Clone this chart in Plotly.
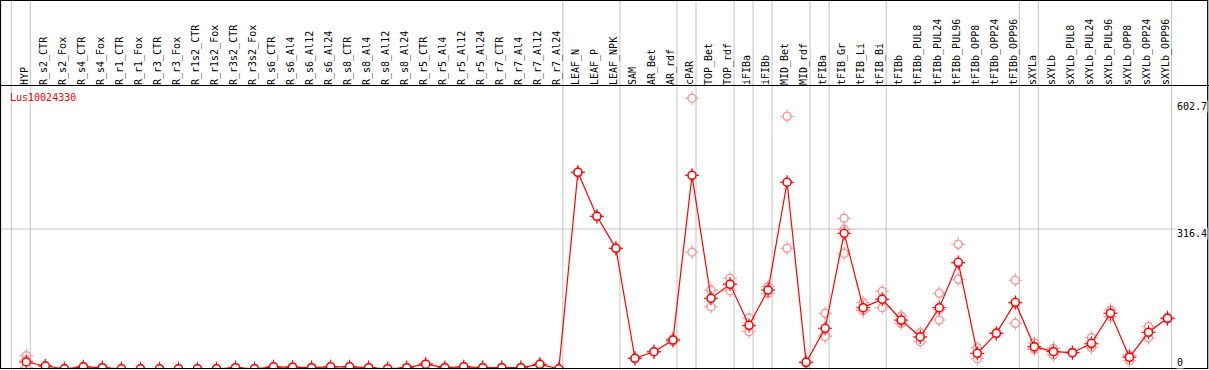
import plotly.graph_objects as go

# ---- data -------------------------------------------------------------
groups = [
    ["HYP"],
    ["R_s2_CTR", "R_s2_Fox", "R_s4_CTR", "R_s4_Fox", "R_r1_CTR", "R_r1_Fox",
     "R_r3_CTR", "R_r3_Fox", "R_r1s2_CTR", "R_r1s2_Fox", "R_r3s2_CTR", "R_r3s2_Fox",
     "R_s6_CTR", "R_s6_Al4", "R_s6_Al12", "R_s6_Al24", "R_s8_CTR", "R_s8_Al4",
     "R_s8_Al12", "R_s8_Al24", "R_r5_CTR", "R_r5_Al4", "R_r5_Al12", "R_r5_Al24",
     "R_r7_CTR", "R_r7_Al4", "R_r7_Al12", "R_r7_Al24"],
    ["LEAF_N", "LEAF_P", "LEAF_NPK"],
    ["SAM", "AR_Bet", "AR_rdf"],
    ["cPAR"],
    ["TOP_Bet", "TOP_rdf"],
    ["iFIBa"],
    ["iFIBb"],
    ["MID_Bet", "MID_rdf"],
    ["tFIBa"],
    ["tFIB_Gr", "tFIB_Li", "tFIB_Bi"],
    ["tFIBb", "tFIBb_PUL8", "tFIBb_PUL24", "tFIBb_PUL96", "tFIBb_OPP8", "tFIBb_OPP24", "tFIBb_OPP96"],
    ["sXYLa"],
    ["sXYLb", "sXYLb_PUL8", "sXYLb_PUL24", "sXYLb_PUL96", "sXYLb_OPP8", "sXYLb_OPP24", "sXYLb_OPP96"],
]
categories = [c for g in groups for c in g]

mean_values = [
    15.8, 6.8, 0.5, 5, 3, 0.5, 0.5, 0.5, 0.5, 0.5, 0.5, 3, 0.5, 5, 4,
    3, 5, 5, 3, 0.5, 3, 11, 3, 5, 3, 3, 3, 10.5, 0.5,
    444.5, 345, 272.7,
    24.2, 39, 65.5,
    437.7,
    159.8, 191.4,
    98.7,
    178.5,
    422, 15,
    92,
    306.6, 138.6, 157.5,
    110.7, 72.3, 138.6, 241, 35.4, 80.6, 150.7,
    50.4,
    39.1, 36.9, 58, 125.9, 26.4, 83, 114.6,
]
rep_a = [
    30, 6.8, 0.5, 5, 3, 0.5, 0.5, 0.5, 0.5, 0.5, 0.5, 3, 0.5, 5, 4,
    3, 5, 5, 3, 0.5, 3, 11, 3, 5, 3, 3, 3, 10.5, 0.5,
    444.5, 345, 272.7,
    24.2, 39, 62,
    612,
    178.5, 205,
    115,
    186,
    571, 14,
    125.9,
    340.5, 149.9, 175.5,
    119.8, 82, 171, 281.8, 48, 82, 200.4,
    59.4,
    46.8, 38, 70.8, 133.3, 31.6, 95.6, 117,
]
rep_b = [
    20, 6.8, 0.5, 5, 3, 0.5, 0.5, 0.5, 0.5, 0.5, 0.5, 3, 0.5, 5, 4,
    3, 5, 5, 3, 0.5, 3, 11, 3, 5, 3, 3, 3, 10.5, 0.5,
    444.5, 345, 272.7,
    24.2, 39, 66,
    438,
    140.8, 177,
    84.3,
    171,
    272.7, 16,
    76.8,
    315.6, 131.8, 138.6,
    103.2, 61.7, 110.7, 202.7, 23.3, 80, 103.2,
    44.5,
    31.6, 36, 48.1, 118.2, 18.8, 70.8, 113,
]
rep_c = [
    4, 6.8, 0.5, 5, 3, 0.5, 0.5, 0.5, 0.5, 0.5, 0.5, 3, 0.5, 5, 4,
    3, 5, 5, 3, 0.5, 3, 11, 3, 5, 3, 3, 3, 10.5, 0.5,
    444.5, 345, 272.7,
    24.2, 39, 68,
    264,
    160, 192,
    97,
    178.5,
    422, 15,
    73,
    261.4, 134, 158.4,
    109, 73, 134, 238.5, 35, 80, 148.5,
    47,
    39, 37, 55, 126, 29, 82.6, 114,
]
y_ticks = [0, 316.4, 602.7]
y_tick_labels = ["0", "316.4", "602.7"]
gene_id = "Lus10024330"

# ---- geometry / style ------------------------------------------------
W, H = 1209, 370
X0_PX, STEP_PX = 26.3, 19.02          # pixel position of first category, spacing
PLOT_TOP_PX, PLOT_BOT_PX = 86, 369
PX_PER_UNIT = 0.4425
FONT = "DejaVu Sans Mono"
RED = "#ff0000"
FADED = "#f29a9a"
GRID = "#c4c4c4"

xs = list(range(len(categories)))
x_range = [-X0_PX / STEP_PX, (W - X0_PX) / STEP_PX]
y_range = [0, (PLOT_BOT_PX - PLOT_TOP_PX) / PX_PER_UNIT]

fig = go.Figure()

# replicate points (faded)
for rep in (rep_a, rep_b, rep_c):
    fig.add_trace(go.Scatter(
        x=xs, y=rep, mode="markers", hoverinfo="skip",
        marker=dict(symbol="cross-thin-open", size=10, color=FADED,
                    line=dict(color=FADED, width=1)),
    ))
    fig.add_trace(go.Scatter(
        x=xs, y=rep, mode="markers", hoverinfo="skip",
        marker=dict(symbol="circle", size=8, color="white", line=dict(color=FADED, width=1.5)),
    ))

# mean line + markers
fig.add_trace(go.Scatter(
    x=xs, y=mean_values, mode="lines", line=dict(color=RED, width=1.2), hoverinfo="skip",
))
fig.add_trace(go.Scatter(
    x=xs, y=mean_values, mode="markers", hoverinfo="skip",
    marker=dict(symbol="cross-thin-open", size=10, color=RED, line=dict(color=RED, width=1)),
))
fig.add_trace(go.Scatter(
    x=xs, y=mean_values, mode="markers",
    marker=dict(symbol="circle", size=8, color="white", line=dict(color=RED, width=1.5)),
))

shapes = []
# group separators (vertical gray lines)
off = 4 / STEP_PX
bounds = [-1]
acc = -1
for g in groups:
    acc += len(g)
    bounds.append(acc)
for b in bounds:
    shapes.append(dict(type="line", xref="x", yref="paper", x0=b + off, x1=b + off,
                       y0=0, y1=1, line=dict(color=GRID, width=1), layer="below"))
# horizontal grid at interior ticks
for v in y_ticks[1:-1]:
    shapes.append(dict(type="line", xref="paper", yref="y", x0=0, x1=1, y0=v, y1=v,
                       line=dict(color=GRID, width=1), layer="below"))
# frame
def py(px):
    return (H - px) / H
shapes.append(dict(type="rect", xref="paper", yref="paper",
                   x0=0.5 / W, x1=1207.7 / W, y0=py(368.5), y1=py(0.5),
                   line=dict(color="black", width=1.2)))
shapes.append(dict(type="line", xref="paper", yref="paper",
                   x0=0, x1=1, y0=py(85.5), y1=py(85.5),
                   line=dict(color="black", width=1.2)))

annotations = [dict(xref="paper", yref="paper", x=8 / W, y=py(97.5), xanchor="left",
                    yanchor="middle", text=gene_id, showarrow=False,
                    font=dict(family=FONT, size=10, color=RED))]
for v, t in zip(y_ticks, y_tick_labels):
    annotations.append(dict(
        xref="paper", yref="y", x=1176 / W, y=v, xanchor="left",
        yanchor="bottom" if v == y_ticks[0] else "top",
        yshift=2 if v != y_ticks[0] else 0,
        text=t, showarrow=False, bgcolor="white", borderpad=0,
        font=dict(family=FONT, size=10, color="black")))

fig.update_layout(
    width=W, height=H, margin=dict(l=0, r=0, t=0, b=0, pad=0),
    paper_bgcolor="white", plot_bgcolor="white", showlegend=False,
    shapes=shapes, annotations=annotations,
    xaxis=dict(range=x_range, domain=[0, 1], side="top", tickmode="array",
               tickvals=xs, ticktext=categories, tickangle=-90, ticks="",
               tickfont=dict(family=FONT, size=10, color="black"),
               showgrid=False, zeroline=False, showline=False, automargin=False,
               ticklabelshift=-2, ticklabelstandoff=0, fixedrange=True),
    yaxis=dict(range=y_range, domain=[py(PLOT_BOT_PX), py(PLOT_TOP_PX)],
               showgrid=False, zeroline=False, showline=False, showticklabels=False,
               ticks="", automargin=False, fixedrange=True),
)

fig.write_html("out.html", config={"displayModeBar": False},
               post_script="document.body.style.margin='0';document.body.style.padding='0';")
